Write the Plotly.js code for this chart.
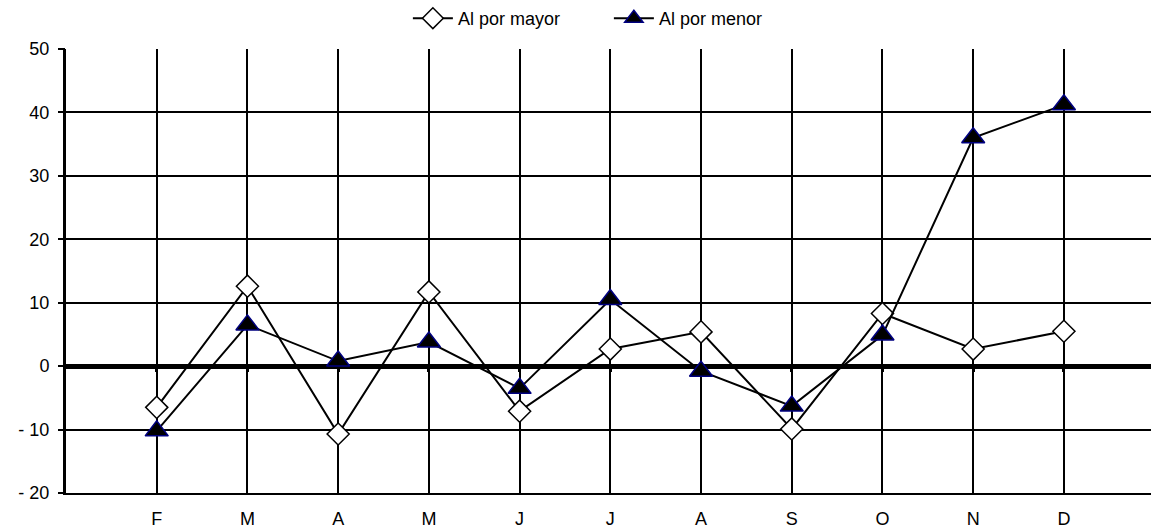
<!DOCTYPE html>
<html>
<head>
<meta charset="utf-8">
<script src="https://cdn.plot.ly/plotly-3.0.1.min.js"></script>
<style>html,body{margin:0;padding:0;background:#fff;}#chart{width:1151px;height:531px;}</style>
</head>
<body>
<div id="chart"></div>
<script>
const categories = ["F", "M", "A", "M", "J", "J", "A", "S", "O", "N", "D"];
const alPorMayor = [-6.5, 12.6, -10.7, 11.7, -7.1, 2.7, 5.4, -9.9, 8.3, 2.7, 5.5];
const alPorMenor = [-10.2, 6.5, 0.8, 3.8, -3.5, 10.5, -0.8, -6.3, 4.9, 36.0, 41.2];
const yTickVals = [-20, -10, 0, 10, 20, 30, 40, 50];
const yTickText = ["- 20", "- 10", "0", "10", "20", "30", "40", "50"];

const idx = categories.map((_, i) => i);
const font = {family: "Liberation Sans, Arial, sans-serif", color: "#000"};

const traces = [
  {
    x: idx, y: alPorMayor, name: "Al por mayor", type: "scatter", mode: "lines+markers",
    line: {color: "#000", width: 2},
    marker: {symbol: "diamond", size: 17, color: "#fff", line: {color: "#000", width: 1.5}}
  },
  {
    x: idx, y: alPorMenor, name: "Al por menor", type: "scatter", mode: "lines+markers",
    line: {color: "#000", width: 2},
    marker: {symbol: "triangle-up", size: 20, color: "#000", line: {color: "#000080", width: 1.5}}
  },
  {
    x: idx, y: idx.map(() => null), xaxis: "x2", yaxis: "y2", showlegend: false, hoverinfo: "skip",
    type: "scatter", mode: "lines"
  }
];

const xRange = [-1, 10.96];
const yRange = [-20, 50];
const layout = {
  width: 1151, height: 531,
  margin: {l: 66, r: 0, t: 49, b: 38, autoexpand: false},
  paper_bgcolor: "#fff", plot_bgcolor: "#fff",
  font: Object.assign({size: 18}, font),
  showlegend: true,
  legend: {
    orientation: "h", xref: "container", yref: "container", x: 0.529, xanchor: "center",
    y: 1.0, yanchor: "top", font: Object.assign({size: 18}, font), itemwidth: 40, tracegroupgap: 0,
    entrywidth: 146
  },
  xaxis: {
    range: xRange, tickmode: "array", tickvals: idx, ticktext: categories,
    showgrid: true, gridcolor: "#000", gridwidth: 2, zeroline: false,
    showline: true, linecolor: "#000", linewidth: 2, ticks: "", ticklabelstandoff: 8,
    tickfont: Object.assign({size: 18}, font), fixedrange: true
  },
  xaxis2: {
    range: xRange, overlaying: "x", anchor: "free", position: 20 / 70,
    tickmode: "array", tickvals: idx, ticks: "outside", ticklen: 5, tickwidth: 3, tickcolor: "#000",
    showticklabels: false, showgrid: false, zeroline: false, showline: false
  },
  yaxis: {
    range: yRange, tickmode: "array", tickvals: yTickVals, ticktext: yTickText,
    showgrid: true, gridcolor: "#000", gridwidth: 2,
    zeroline: true, zerolinecolor: "#000", zerolinewidth: 5,
    showline: true, linecolor: "#000", linewidth: 3, ticks: "outside", ticklen: 10, tickwidth: 2,
    tickcolor: "rgba(0,0,0,0)",
    tickfont: Object.assign({size: 18}, font), fixedrange: true
  },
  yaxis2: {
    range: yRange, overlaying: "y", anchor: "x", side: "left", tickmode: "array", tickvals: yTickVals,
    showticklabels: false, showgrid: false, zeroline: false, showline: false,
    ticks: "outside", ticklen: 7, tickwidth: 2, tickcolor: "#000", fixedrange: true
  }
};

Plotly.newPlot("chart", traces, layout, {displayModeBar: false, staticPlot: true});
</script>
</body>
</html>
